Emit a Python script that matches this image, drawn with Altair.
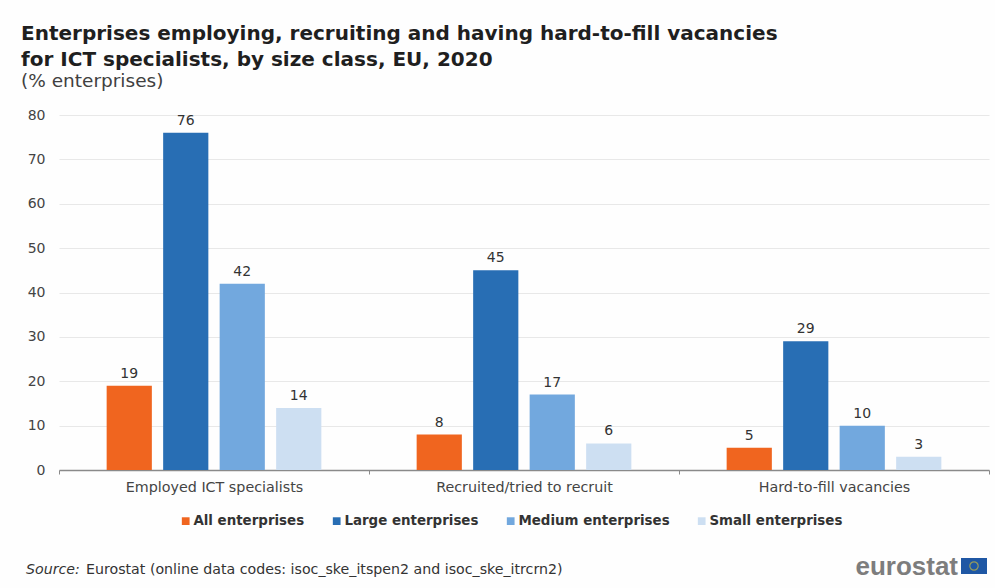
import altair as alt
import pandas as pd

indicators = ["Employed ICT specialists", "Recruited/tried to recruit", "Hard-to-fill vacancies"]
size_classes = ["All enterprises", "Large enterprises", "Medium enterprises", "Small enterprises"]
colours = ["#f0651f", "#286eb4", "#72a8de", "#cddff2"]
all_enterprises = [19, 8, 5]
large_enterprises = [76, 45, 29]
medium_enterprises = [42, 17, 10]
small_enterprises = [14, 6, 3]
series = [all_enterprises, large_enterprises, medium_enterprises, small_enterprises]

rows = [
    {"indicator": ind, "size": size, "value": vals[i]}
    for size, vals in zip(size_classes, series)
    for i, ind in enumerate(indicators)
]
df = pd.DataFrame(rows)

FONT = "DejaVu Sans"
BRAND_FONT = "Liberation Sans"

x = alt.X(
    "indicator:N",
    sort=indicators,
    title=None,
    scale=alt.Scale(paddingInner=0, paddingOuter=0),
    axis=alt.Axis(
        labelAngle=0, labelFontSize=14.3, labelColor="#444444", labelPadding=6,
        tickBand="extent", tickSize=4, tickColor="#8a8a8a",
        domainColor="#8a8a8a", domainWidth=1.5, grid=False,
    ),
)
x_offset = alt.XOffset(
    "size:N", sort=size_classes,
    scale=alt.Scale(paddingInner=0.2, paddingOuter=0.8435),
)

bars = alt.Chart(df).mark_bar().encode(
    x=x,
    xOffset=x_offset,
    y=alt.Y(
        "value:Q", title=None,
        scale=alt.Scale(domain=[0, 80], nice=False),
        axis=alt.Axis(
            values=[0, 10, 20, 30, 40, 50, 60, 70, 80],
            labelFontSize=14, labelColor="#444444", labelPadding=14,
            ticks=False, domain=False, grid=True, gridColor="#e8e8e8", gridWidth=1,
        ),
    ),
    color=alt.Color(
        "size:N", sort=size_classes, title=None,
        scale=alt.Scale(domain=size_classes, range=colours),
        legend=alt.Legend(
            orient="none", legendX=120, legendY=399, direction="horizontal",
            symbolType="square", symbolSize=60, symbolStrokeWidth=0,
            labelFont=FONT, labelFontSize=13.4, labelFontWeight="bold",
            labelColor="#333333", labelOffset=1, columnPadding=25,
        ),
    ),
)

value_labels = alt.Chart(df).mark_text(
    baseline="bottom", dy=-5, fontSize=14, color="#333333"
).encode(
    x=alt.X("indicator:N", sort=indicators),
    xOffset=x_offset,
    y=alt.Y("value:Q"),
    text=alt.Text("value:Q"),
)

note = pd.DataFrame({"note": ["Eurostat (online data codes: isoc_ske_itspen2 and isoc_ske_itrcrn2)"]})
source_word = alt.Chart(pd.DataFrame({"t": ["Source:"]})).mark_text(
    align="left", baseline="middle", fontSize=14.2, fontStyle="italic", color="#333333"
).encode(x=alt.value(-33), y=alt.value(455), text="t:N")
source_text = alt.Chart(note).mark_text(
    align="left", baseline="middle", fontSize=14.2, color="#333333"
).encode(x=alt.value(27), y=alt.value(455), text="note:N")

brand = alt.Chart(pd.DataFrame({"t": ["eurostat"]})).mark_text(
    align="right", baseline="middle", fontSize=26, fontWeight="bold", font=BRAND_FONT, color="#7d7d7d"
).encode(x=alt.value(899), y=alt.value(452), text="t:N")
flag = alt.Chart(pd.DataFrame({"a": [1]})).mark_rect(color="#1f57a4").encode(
    x=alt.value(902), x2=alt.value(928), y=alt.value(443), y2=alt.value(459)
)
stars = alt.Chart(pd.DataFrame({"a": [1]})).mark_point(
    shape="circle", size=70, filled=False, color="#c9b93f", strokeWidth=1.2
).encode(x=alt.value(915), y=alt.value(451))

chart = alt.layer(bars, value_labels, source_word, source_text, brand, flag, stars).properties(
    width=930,
    height=355,
    padding={"left": 59, "top": 115, "right": 6, "bottom": 118},
    autosize=alt.AutoSizeParams(type="none"),
    background="#fefefe",
    title=alt.TitleParams(
        text=[
            "Enterprises employing, recruiting and having hard-to-fill vacancies",
            "for ICT specialists, by size class, EU, 2020",
        ],
        subtitle="(% enterprises)",
        anchor="start", frame="group", dx=-38, offset=18,
        font=FONT, fontSize=20, fontWeight="bold", color="#1f1f1f", lineHeight=26,
        subtitleFont=FONT, subtitleFontSize=18.5, subtitleColor="#404040", subtitlePadding=2,
    ),
).configure_view(stroke=None).configure_axis(labelFont=FONT).configure_text(font=FONT)

chart.save("out.html", embed_options={"renderer": "svg", "actions": False})
